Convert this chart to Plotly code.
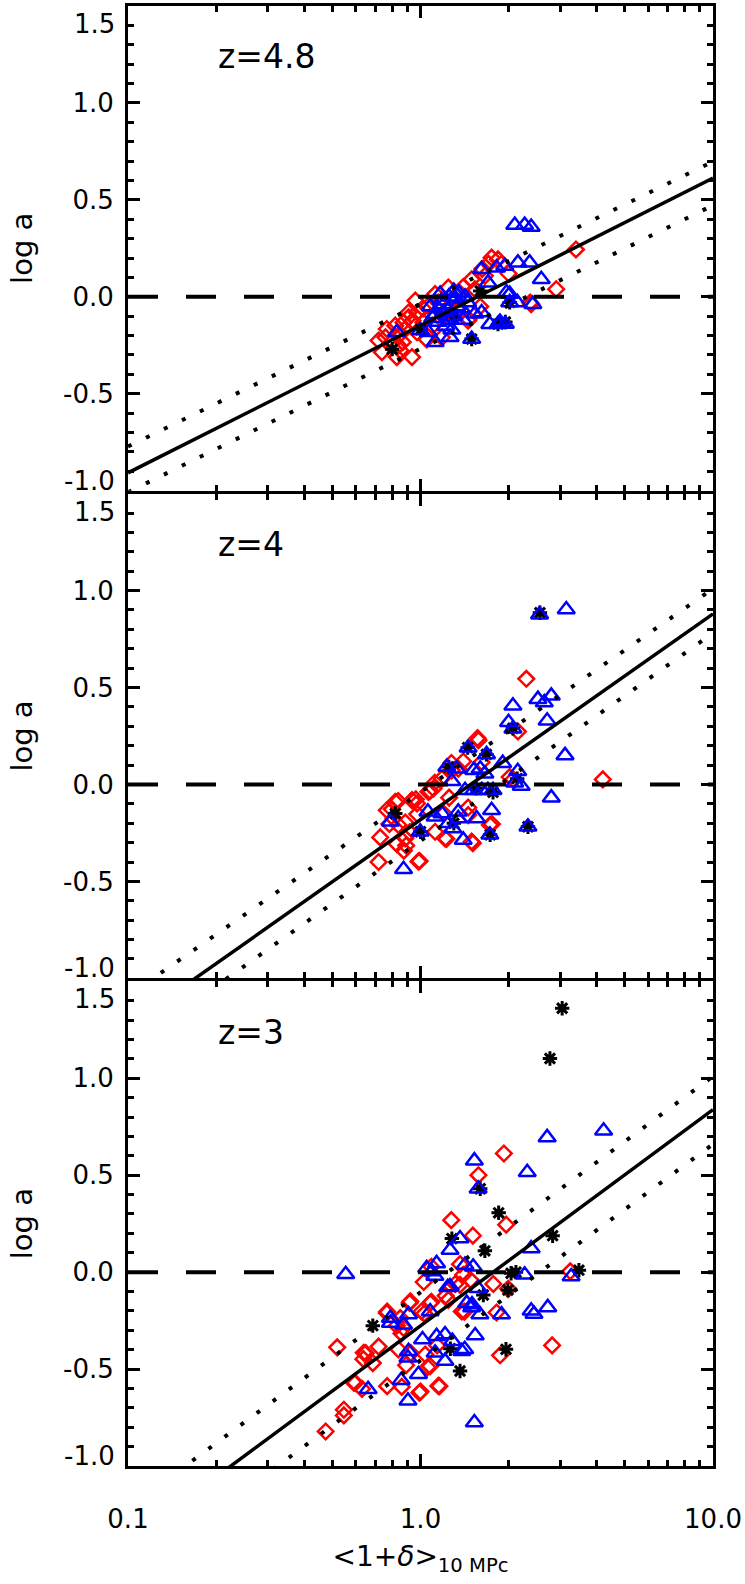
import plotly.graph_objects as go

# ---- data (x = <1+delta>, y = log a) ----
# panel z=4.8
p1_dia_x = [1.75, 1.84, 1.66, 2.91, 3.40, 2.39, 1.245, 1.122, 1.346, 1.455, 1.064, 0.973, 1.023, 0.91, 0.875,
            0.82, 0.767, 0.853, 0.973, 0.759, 0.719, 0.841, 0.738, 0.853, 0.83, 0.935, 1.183, 1.496, 1.535, 1.626,
            1.89, 2.0, 1.6, 1.2, 1.3, 1.1, 1.4, 1.05, 2.37, 1.46, 1.23, 0.91, 0.94, 0.87, 0.96, 0.79, 0.88,
            1.02, 1.15, 1.36, 1.71]
p1_dia_y = [0.202, 0.193, 0.108, 0.039, 0.244, -0.038, 0.048, 0.014, -0.062, -0.123, -0.046, -0.081, -0.132, -0.106,
            -0.132, -0.149, -0.166, -0.192, -0.183, -0.209, -0.226, -0.251, -0.286, -0.277, -0.311, -0.311, -0.209,
            0.09, 0.039, 0.144, 0.17, 0.12, -0.05, -0.1, -0.02, -0.15, 0.05, -0.22, -0.03, -0.115, -0.07, -0.081,
            -0.123, -0.234, -0.02, -0.24, -0.17, -0.06, -0.03, 0.02, 0.17]
p1_tri_x = [2.10, 2.27, 2.39, 1.618, 1.82, 1.941, 2.153, 2.361, 2.588, 1.702, 1.968, 2.018, 2.143, 2.421, 1.618,
            1.726, 1.841, 1.496, 1.122, 1.262, 1.064, 0.998, 0.83, 1.167, 1.25, 1.3, 1.35, 1.42, 1.32, 1.15, 1.2,
            1.26, 1.3, 1.1, 1.15, 1.535, 2.018, 1.2, 1.38, 1.28, 1.87, 1.95, 1.08, 1.18, 1.24, 1.33, 1.45, 1.12,
            1.22, 1.4]
p1_tri_y = [0.37, 0.37, 0.36, 0.142, 0.15, 0.159, 0.176, 0.176, 0.09, 0.073, 0.022, -0.029, -0.029, -0.038, -0.081,
            -0.141, -0.141, -0.218, -0.234, -0.209, -0.183, -0.174, -0.183, 0.014, 0.0, 0.03, 0.02, 0.0, -0.01,
            -0.06, -0.08, -0.12, -0.1, -0.11, -0.13, -0.088, 0.014, -0.04, -0.06, -0.17, -0.13, -0.14, -0.05,
            -0.02, -0.07, -0.05, -0.03, -0.09, -0.15, -0.12]
p1_ast_x = [1.496, 1.841, 1.95, 2.018, 1.3, 1.0, 1.6, 0.8]
p1_ast_y = [-0.218, -0.141, -0.13, -0.029, -0.1, -0.17, 0.03, -0.27]

# panel z=4
p2_dia_x = [2.30, 4.20, 1.567, 1.578, 1.40, 1.276, 1.119, 1.079, 0.964, 0.839, 0.798, 0.975, 0.887, 0.728, 0.83,
            0.893, 0.719, 0.993, 1.227, 1.51, 1.754, 2.153, 2.075, 1.455, 1.253, 0.877, 0.783, 0.918, 0.82, 0.767,
            0.935, 0.973, 1.064, 1.107, 1.183, 1.279, 1.347, 0.809, 0.84, 0.887, 0.984, 1.122, 1.213, 1.496, 1.726,
            1.455, 2.018, 1.618, 1.2]
p2_dia_y = [0.545, 0.026, 0.239, 0.228, 0.119, 0.111, 0.009, -0.034, -0.077, -0.085, -0.128, -0.153, -0.196,
            -0.273, -0.307, -0.315, -0.4, -0.395, -0.281, -0.303, -0.204, 0.273, 0.026, -0.119, -0.068, -0.341,
            -0.204, -0.247, -0.09, -0.133, -0.081, -0.098, -0.038, -0.021, 0.03, 0.073, 0.081, -0.175, -0.209,
            -0.278, -0.397, -0.244, -0.278, -0.295, -0.209, -0.158, 0.038, 0.115, -0.15]
p2_tri_x = [2.553, 3.15, 2.07, 2.52, 2.80, 2.65, 2.71, 2.00, 2.07, 3.12, 1.455, 1.682, 1.23, 1.33, 1.52, 1.60,
            1.66, 1.91, 2.15, 2.10, 2.21, 1.28, 1.42, 1.52, 1.62, 1.70, 1.77, 2.80, 1.06, 1.122, 1.183, 1.346, 1.75,
            0.789, 0.998, 1.245, 1.29, 1.346, 1.555, 1.726, 1.40, 2.33, 0.875]
p2_tri_y = [0.876, 0.902, 0.406, 0.44, 0.457, 0.423, 0.329, 0.321, 0.287, 0.15, 0.189, 0.155, 0.09, 0.081, 0.073,
            0.081, 0.055, 0.11, 0.068, 0.009, -0.008, 0.017, -0.03, -0.03, -0.03, -0.03, -0.03, -0.068, -0.141,
            -0.167, -0.15, -0.141, -0.133, -0.192, -0.244, -0.2, -0.227, -0.175, -0.175, -0.26, -0.286, -0.218,
            -0.437]
p2_ast_x = [2.56, 2.33, 1.45, 1.68, 2.07, 1.77, 1.0, 1.73, 0.82, 1.25, 1.55, 2.14, 1.3]
p2_ast_y = [0.886, -0.218, 0.19, 0.155, 0.29, -0.04, -0.244, -0.26, -0.15, 0.09, -0.02, 0.03, -0.2]

# panel z=3
p3_dia_x = [1.928, 1.578, 1.274, 1.963, 1.51, 1.365, 1.026, 1.483, 1.774, 3.251, 1.995, 1.82, 2.818, 1.871, 1.413,
            1.089, 0.918, 1.03, 0.769, 0.83, 0.861, 0.519, 0.65, 0.719, 0.638, 0.687, 0.893, 0.927, 1.057, 1.161,
            1.0, 0.769, 0.598, 0.631, 0.547, 0.547, 0.474, 1.14, 1.315, 1.219, 1.089, 1.365, 1.4, 1.245, 0.923,
            1.079, 1.009, 1.384, 0.767, 0.853, 0.875, 0.841, 0.64, 1.038, 1.079, 0.592, 0.863, 0.991, 1.151]
p3_dia_y = [0.612, 0.5, 0.268, 0.245, 0.188, 0.041, -0.051, -0.041, -0.061, 0.004, -0.086, -0.208, -0.378, -0.429,
            -0.204, -0.153, -0.159, -0.214, -0.204, -0.276, -0.316, -0.388, -0.418, -0.384, -0.449, -0.469, -0.48,
            -0.418, -0.49, -0.588, -0.616, -0.588, -0.571, -0.602, -0.71, -0.739, -0.822, -0.378, -0.061, -0.122,
            0.028, -0.066, -0.014, -0.143, -0.151, -0.16, -0.203, -0.203, -0.211, -0.237, -0.288, -0.399, -0.416,
            -0.425, -0.485, -0.57, -0.592, -0.622, -0.587]
p3_tri_x = [0.555, 1.091, 1.135, 1.262, 1.365, 1.419, 1.514, 1.262, 1.574, 1.439, 1.496, 1.596, 1.892, 2.27, 2.39,
            3.273, 2.39, 2.443, 2.723, 0.789, 0.91, 1.079, 1.528, 1.574, 2.317, 2.71, 4.227, 0.789, 0.875, 1.016,
            1.135, 1.213, 1.285, 1.384, 0.91, 0.906, 1.122, 1.213, 0.984, 0.859, 0.662, 0.906, 1.528, 1.538, 1.416,
            1.5, 1.239, 1.05, 1.12]
p3_tri_y = [-0.011, 0.003, 0.045, 0.114, 0.173, 0.037, 0.028, -0.074, -0.083, -0.16, -0.182, -0.219, -0.219,
            -0.014, 0.122, -0.023, -0.199, -0.216, -0.182, -0.237, -0.219, -0.203, 0.575, 0.43, 0.515, 0.695, 0.729,
            -0.263, -0.271, -0.348, -0.331, -0.322, -0.356, -0.408, -0.408, -0.442, -0.416, -0.459, -0.527, -0.558,
            -0.604, -0.664, -0.776, -0.327, -0.398, -0.167, -0.078, 0.02, -0.02]
p3_ast_x = [3.05, 2.77, 1.60, 1.85, 1.28, 1.66, 2.83, 2.04, 2.12, 3.48, 1.64, 1.99, 0.687, 1.265, 1.365, 1.96]
p3_ast_y = [1.361, 1.102, 0.43, 0.306, 0.173, 0.11, 0.188, -0.006, 0.0, 0.01, -0.118, -0.092, -0.276, -0.395,
            -0.51, -0.398]

# fitted relation and scatter band, value at x = 0.1 and x = 10
line_x = [0.1, 10.0]
fit_mid = [[-0.908, 0.612], [-1.244, 0.880], [-1.392, 0.838]]
fit_up = [[-0.772, 0.698], [-1.09, 1.01], [-1.218, 1.01]]
fit_lo = [[-1.008, 0.472], [-1.363, 0.781], [-1.57, 0.66]]

panel_labels = ["z=4.8", "z=4", "z=3"]
y_ticks = [-0.5, 0.0, 0.5, 1.0]
y_ticktext = ["-0.5", "0.0", "0.5", "1.0"]
x_ticks = [0.1, 1.0, 10.0]
x_ticktext = ["0.1", "1.0", "10.0"]
x_minor = [0.2, 0.3, 0.4, 0.5, 0.6, 0.7, 0.8, 0.9, 2, 3, 4, 5, 6, 7, 8, 9]

FONT = "DejaVu Sans"
HEIGHT, MT, MB = 1584, 3, 118
panels = [
    (p1_dia_x, p1_dia_y, p1_tri_x, p1_tri_y, p1_ast_x, p1_ast_y),
    (p2_dia_x, p2_dia_y, p2_tri_x, p2_tri_y, p2_ast_x, p2_ast_y),
    (p3_dia_x, p3_dia_y, p3_tri_x, p3_tri_y, p3_ast_x, p3_ast_y),
]

# panels are stacked with a gap equal to the frame width, so the
# (outside drawn) frame lines of neighbouring panels land on each other
gap = 3 / (HEIGHT - MT - MB)
h = (1 - 2 * gap) / 3
domains = [[1 - h, 1.0], [h + gap, 2 * h + gap], [0.0, h]]

fig = go.Figure()
annotations = []
for i, (dx, dy, tx, ty, ax_, ay_) in enumerate(panels):
    n = "" if i == 0 else str(i + 1)
    xa, ya = "x" + n, "y" + n
    fig.add_trace(go.Scatter(x=dx, y=dy, mode="markers", xaxis=xa, yaxis=ya,
                             marker=dict(symbol="diamond-open", size=12, color="#ff0000",
                                         line=dict(width=2.5, color="#ff0000"))))
    fig.add_trace(go.Scatter(x=ax_, y=ay_, mode="markers", xaxis=xa, yaxis=ya,
                             marker=dict(symbol="asterisk-open", size=12, color="black",
                                         line=dict(width=3, color="black"))))
    fig.add_trace(go.Scatter(x=tx, y=ty, mode="markers", xaxis=xa, yaxis=ya,
                             marker=dict(symbol="triangle-up-open", size=15, color="#0000ff",
                                         line=dict(width=2.5, color="#0000ff"))))
    fig.add_trace(go.Scatter(x=line_x, y=[0, 0], mode="lines", xaxis=xa, yaxis=ya,
                             line=dict(color="black", width=4, dash="30px,28px")))
    for arr in (fit_up, fit_lo):
        fig.add_trace(go.Scatter(x=line_x, y=arr[i], mode="lines", xaxis=xa, yaxis=ya,
                                 line=dict(color="black", width=4, dash="4px,16px")))
    fig.add_trace(go.Scatter(x=line_x, y=fit_mid[i], mode="lines", xaxis=xa, yaxis=ya,
                             line=dict(color="black", width=3.5)))

    bottom = i == 2
    xaxis = dict(
        type="log", range=[-1, 1], domain=[0, 1], anchor=ya,
        showline=True, linewidth=3, linecolor="black", mirror="allticks",
        ticks="inside", ticklen=12, tickwidth=2.5, tickcolor="black",
        tickvals=x_ticks, ticktext=x_ticktext, showticklabels=bottom,
        ticklabelstandoff=28,
        minor=dict(ticks="inside", ticklen=6, tickwidth=2.5, tickcolor="black", tickvals=x_minor),
        showgrid=False, zeroline=False,
        tickfont=dict(family=FONT, size=26, color="black"),
    )
    if bottom:
        xaxis["title"] = dict(text="&lt;1+<i>δ</i>&gt;<sub>10 MPc</sub>",
                              font=dict(family=FONT, size=28, color="black"), standoff=14)
    fig.layout["xaxis" + n] = xaxis
    fig.layout["yaxis" + n] = dict(
        range=[-1.0, 1.5], domain=domains[i], anchor=xa,
        showline=True, linewidth=3, linecolor="black", mirror="allticks",
        ticks="inside", ticklen=12, tickwidth=2.5, tickcolor="black",
        tickvals=y_ticks, ticktext=y_ticktext, ticklabelstandoff=6,
        minor=dict(ticks="inside", ticklen=6, tickwidth=2.5, tickcolor="black", dtick=0.1, tick0=0),
        showgrid=False, zeroline=False,
        tickfont=dict(family=FONT, size=26, color="black"),
        title=dict(text="log a", font=dict(family=FONT, size=29, color="black"), standoff=22),
    )
    annotations.append(dict(text=panel_labels[i], xref=xa + " domain", yref=ya + " domain",
                            x=0.151, y=0.895, xanchor="left", yanchor="middle", showarrow=False,
                            font=dict(family=FONT, size=33, color="black")))
    # edge tick labels sit inside the frame like in the original
    annotations.append(dict(text="1.5", xref=xa + " domain", yref=ya + " domain", x=0, y=1,
                            xanchor="right", yanchor="middle", xshift=-11, yshift=-18, showarrow=False,
                            font=dict(family=FONT, size=26, color="black")))
    annotations.append(dict(text="-1.0", xref=xa + " domain", yref=ya + " domain", x=0, y=0,
                            xanchor="right", yanchor="middle", xshift=-11, yshift=10, showarrow=False,
                            font=dict(family=FONT, size=26, color="black")))

fig.update_layout(
    width=745, height=HEIGHT, autosize=False,
    margin=dict(l=128, r=29, t=MT, b=MB),
    paper_bgcolor="white", plot_bgcolor="white",
    showlegend=False, annotations=annotations,
)

fig.write_html("out.html", config={"displayModeBar": False},
               post_script="document.body.style.margin='0';")
